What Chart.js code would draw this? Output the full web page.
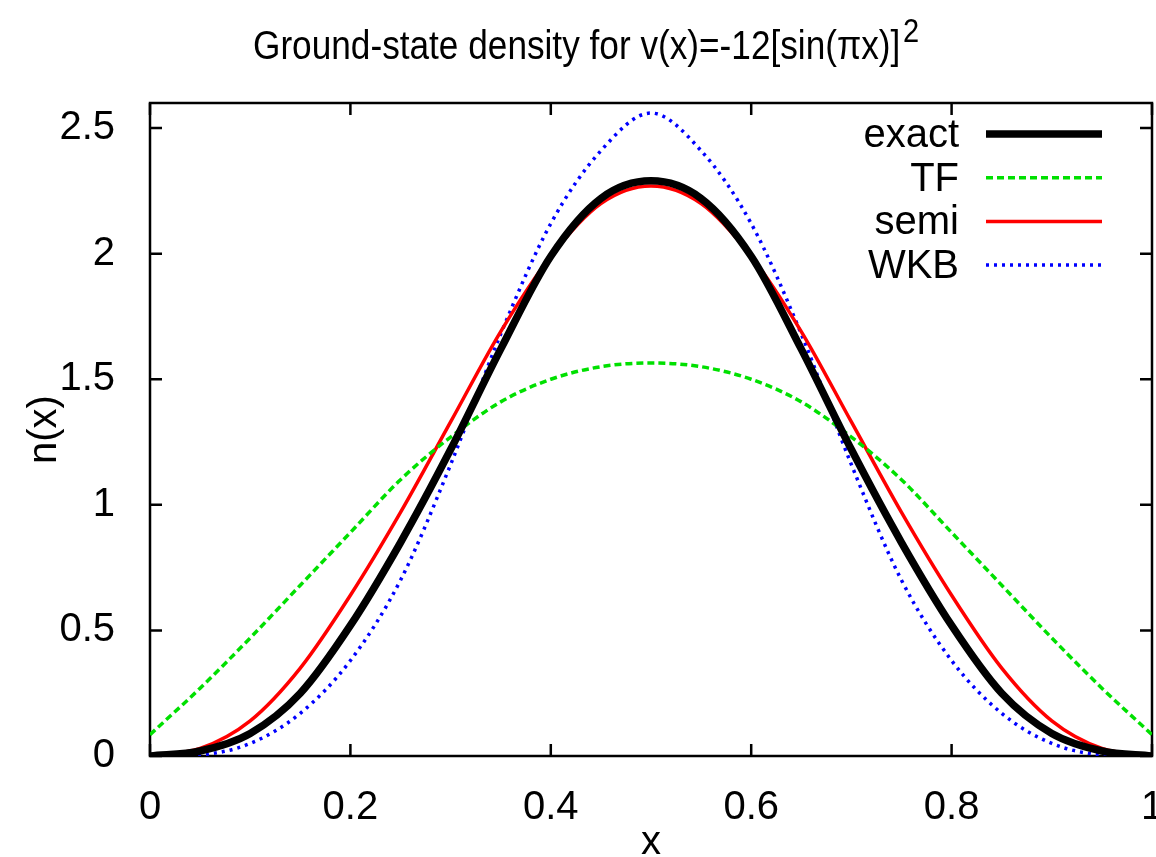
<!DOCTYPE html>
<html>
<head>
<meta charset="utf-8">
<script src="https://cdn.jsdelivr.net/npm/chart.js@4.4.1/dist/chart.umd.min.js"></script>
<style>
  html, body { margin: 0; padding: 0; background: #fff; overflow: hidden; }
  canvas { display: block; }
</style>
</head>
<body>
<canvas id="densityChart" width="1156" height="857"></canvas>
<script>
// DATA
const xValues = [0, 0.05, 0.1, 0.15, 0.2, 0.25, 0.3, 0.35, 0.4, 0.45, 0.5,
                 0.55, 0.6, 0.65, 0.7, 0.75, 0.8, 0.85, 0.9, 0.95, 1]
const exactValues = [0, 0.02, 0.09, 0.25, 0.52, 0.85, 1.22, 1.62, 1.99, 2.22, 2.29,
                     2.22, 1.99, 1.62, 1.22, 0.85, 0.52, 0.25, 0.09, 0.02, 0]
const tfValues = [0.085, 0.27, 0.47, 0.68, 0.89, 1.10, 1.27, 1.41, 1.50, 1.55, 1.565,
                  1.55, 1.50, 1.41, 1.27, 1.10, 0.89, 0.68, 0.47, 0.27, 0.085]
const semiValues = [0, 0.03, 0.14, 0.35, 0.64, 0.97, 1.33, 1.69, 1.99, 2.20, 2.27,
                    2.20, 1.99, 1.69, 1.33, 0.97, 0.64, 0.35, 0.14, 0.03, 0]
const wkbValues = [0, 0.005, 0.05, 0.17, 0.38, 0.70, 1.16, 1.68, 2.12, 2.41, 2.56,
                   2.41, 2.12, 1.68, 1.16, 0.70, 0.38, 0.17, 0.05, 0.005, 0]
const seriesNames = ['exact', 'TF', 'semi', 'WKB']
const titleText = 'Ground-state density for v(x)=-12[sin(\u03c0x)]'
const titleSup = '2'

const fontFamily = "'Liberation Sans', Arial, Helvetica, sans-serif"
Chart.defaults.font.family = fontFamily
Chart.defaults.color = '#000'

function points(ys) {
    return xValues.map((x, i) => ({ x: x, y: ys[i] }))
}

// PLUGINS

// gnuplot style frame with inward ticks on all four sides
const framePlugin = {
    id: 'frame',
    beforeDatasetsDraw(chart) {
        const { ctx, chartArea: a, scales } = chart
        const len = 12
        ctx.save()
        ctx.strokeStyle = '#000'
        ctx.lineWidth = 2.5
        ctx.strokeRect(a.left, a.top, a.right - a.left, a.bottom - a.top)
        ctx.beginPath()
        scales.x.ticks.forEach(t => {
            const px = scales.x.getPixelForValue(t.value)
            ctx.moveTo(px, a.bottom); ctx.lineTo(px, a.bottom - len)
            ctx.moveTo(px, a.top); ctx.lineTo(px, a.top + len)
        })
        scales.y.ticks.forEach(t => {
            const py = scales.y.getPixelForValue(t.value)
            ctx.moveTo(a.left, py); ctx.lineTo(a.left + len, py)
            ctx.moveTo(a.right, py); ctx.lineTo(a.right - len, py)
        })
        ctx.stroke()
        ctx.restore()
    }
}

// key in the top right corner: text right aligned, sample line after it
const keyPlugin = {
    id: 'key',
    afterDatasetsDraw(chart) {
        const { ctx } = chart
        ctx.save()
        ctx.font = '40px ' + fontFamily
        ctx.textAlign = 'right'
        ctx.textBaseline = 'middle'
        chart.data.datasets.forEach((ds, i) => {
            const y = 134 + i * 43.7
            ctx.fillStyle = '#000'
            ctx.fillText(ds.label, 959, y + 2)
            ctx.beginPath()
            ctx.strokeStyle = ds.borderColor
            ctx.lineWidth = ds.borderWidth
            ctx.setLineDash(ds.borderDash || [])
            ctx.moveTo(986, y)
            ctx.lineTo(1102, y)
            ctx.stroke()
        })
        ctx.restore()
    }
}

// title with a raised exponent
const titlePlugin = {
    id: 'plotTitle',
    afterDraw(chart) {
        const { ctx } = chart
        ctx.save()
        ctx.fillStyle = '#000'
        ctx.textBaseline = 'alphabetic'
        ctx.font = '40px ' + fontFamily
        ctx.translate(253, 59)
        ctx.scale(0.88, 1)
        ctx.fillText(titleText, 0, 0)
        const w = ctx.measureText(titleText).width
        ctx.font = '33px ' + fontFamily
        ctx.fillText(titleSup, w + 3, -17)
        ctx.restore()
    }
}

// CHART
const tickFont = { size: 40, family: fontFamily }
const tickLabel = v => String(Math.round(v * 10) / 10)

const densityChart = new Chart(document.getElementById('densityChart'), {
    type: 'line',
    data: {
        datasets: [
            { label: seriesNames[0], data: points(exactValues), borderColor: '#000000', borderWidth: 7.5 },
            { label: seriesNames[1], data: points(tfValues), borderColor: '#00e000', borderWidth: 3.5, borderDash: [7, 4] },
            { label: seriesNames[2], data: points(semiValues), borderColor: '#ff0000', borderWidth: 3.5 },
            { label: seriesNames[3], data: points(wkbValues), borderColor: '#0000ff', borderWidth: 3.5, borderDash: [3, 5] }
        ].map(ds => Object.assign(ds, { pointRadius: 0, fill: false, cubicInterpolationMode: 'monotone' }))
    },
    options: {
        responsive: false,
        animation: false,
        devicePixelRatio: 1,
        layout: { padding: { top: 103, right: 4, left: 0, bottom: 0 } },
        plugins: {
            legend: { display: false },
            tooltip: { enabled: false },
            title: { display: false }
        },
        scales: {
            x: {
                type: 'linear',
                min: 0,
                max: 1,
                grid: { display: false },
                border: { display: false },
                ticks: { stepSize: 0.2, includeBounds: false, padding: 20, font: tickFont, color: '#000', maxRotation: 0, callback: tickLabel },
                title: { display: true, text: 'x', font: { size: 40, lineHeight: 0.7 }, color: '#000', padding: { top: 0, bottom: 0 } },
                afterFit: s => { s.height = 101; s.paddingLeft = 0; s.paddingRight = 0 }
            },
            y: {
                min: 0,
                max: 2.6,
                grid: { display: false },
                border: { display: false },
                ticks: { stepSize: 0.5, includeBounds: false, padding: 27, font: tickFont, color: '#000', callback: tickLabel },
                title: { display: true, text: 'n(x)', font: { size: 40, lineHeight: 1 }, color: '#000', padding: { top: 25, bottom: 0 } },
                afterFit: s => { s.width = 150; s.paddingTop = 0; s.paddingBottom = 0 }
            }
        }
    },
    plugins: [framePlugin, keyPlugin, titlePlugin]
})
</script>
</body>
</html>
